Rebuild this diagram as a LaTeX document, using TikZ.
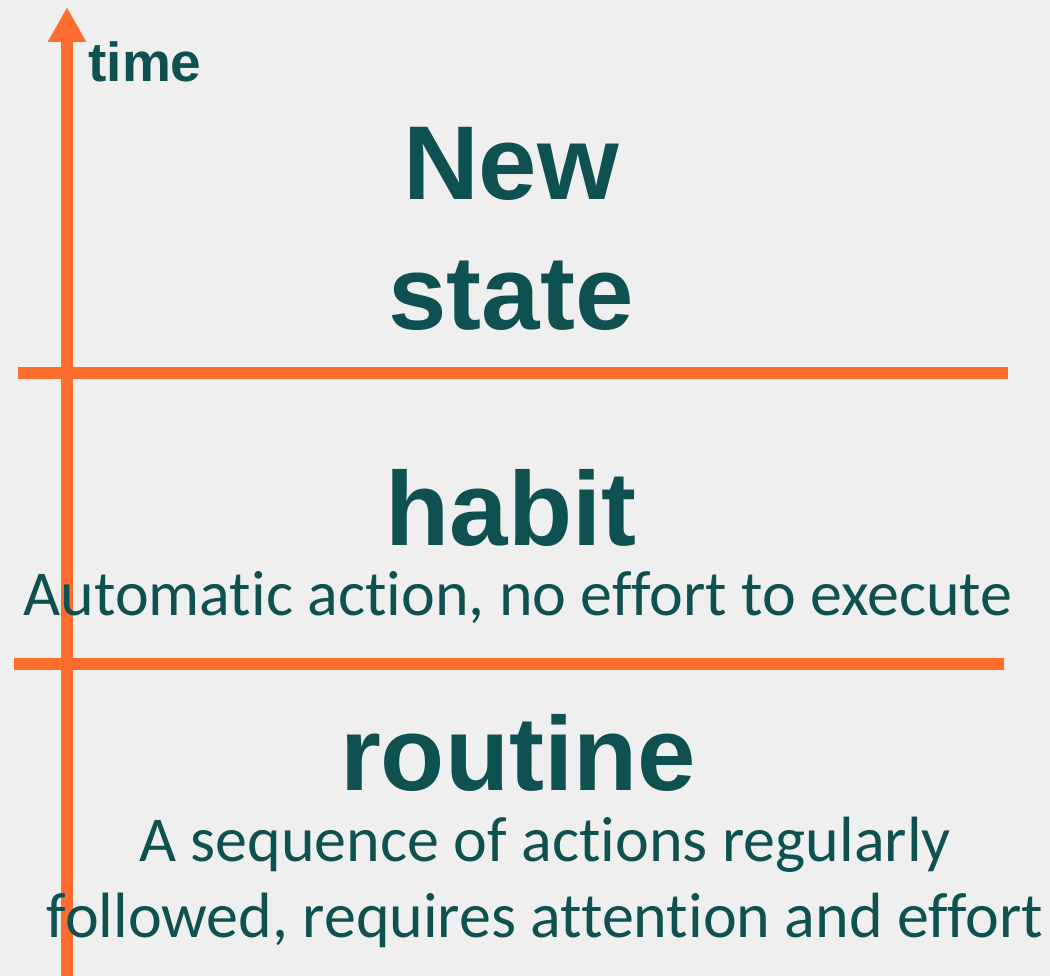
\documentclass[tikz,border=0pt]{standalone}
\usepackage{fontspec}
\usetikzlibrary{arrows.meta}
\newfontfamily\headfont{Liberation Sans}
\newfontfamily\bodyfont[Ligatures = NoCommon]{Carlito}
\definecolor{teal}{HTML}{0F5150}
\definecolor{bar}{HTML}{FF6D2E}
\definecolor{paper}{HTML}{EFEFEF}
\tikzset{
  stage/.style = {anchor = base, inner sep = 0, text = teal, font = \headfont\bfseries\fontsize{105}{125}\selectfont},
  note/.style = {anchor = base, inner sep = 0, text = teal, font = \bodyfont\fontsize{64}{76}\selectfont},
  rule/.style = {draw = bar, line width = 12pt}
}
\begin{document}
\begin{tikzpicture}[x = 1pt, y = -1pt]
\fill[paper] (0,0) rectangle (1050,976);
\useasboundingbox (0,0) rectangle (1050,976);
% time axis
\coordinate (tbot) at (67,976);
\coordinate (ttop) at (67,7);
\draw[rule, -{Triangle[width = 36pt, length = 35pt]}] (tbot) -- (ttop);
\node[anchor = base, inner sep = 0, text = teal, font = \headfont\bfseries\fontsize{55}{66}\selectfont] (time) at (145,82) {time};
% borders between stages
\coordinate (l1a) at (18,373);
\coordinate (l1b) at (1008,373);
\coordinate (l2a) at (14,664);
\coordinate (l2b) at (1004,664);
\draw[rule] (l1a) -- (l1b);
\draw[rule] (l2a) -- (l2b);
% stages
\node[stage] (new) at (511,200) {New};
\node[stage] (state) at (511,330) {state};
\node[stage] (habit) at (511,545) {habit};
\node[note] (habitnote) at (518,615) {Automatic action, no effort to execute};
\node[stage] (routine) at (518,790) {routine};
\node[note] (routinea) at (545,861) {A sequence of actions regularly};
\node[note] (routineb) at (545,937) {followed, requires attention and effort};
\end{tikzpicture}
\end{document}
